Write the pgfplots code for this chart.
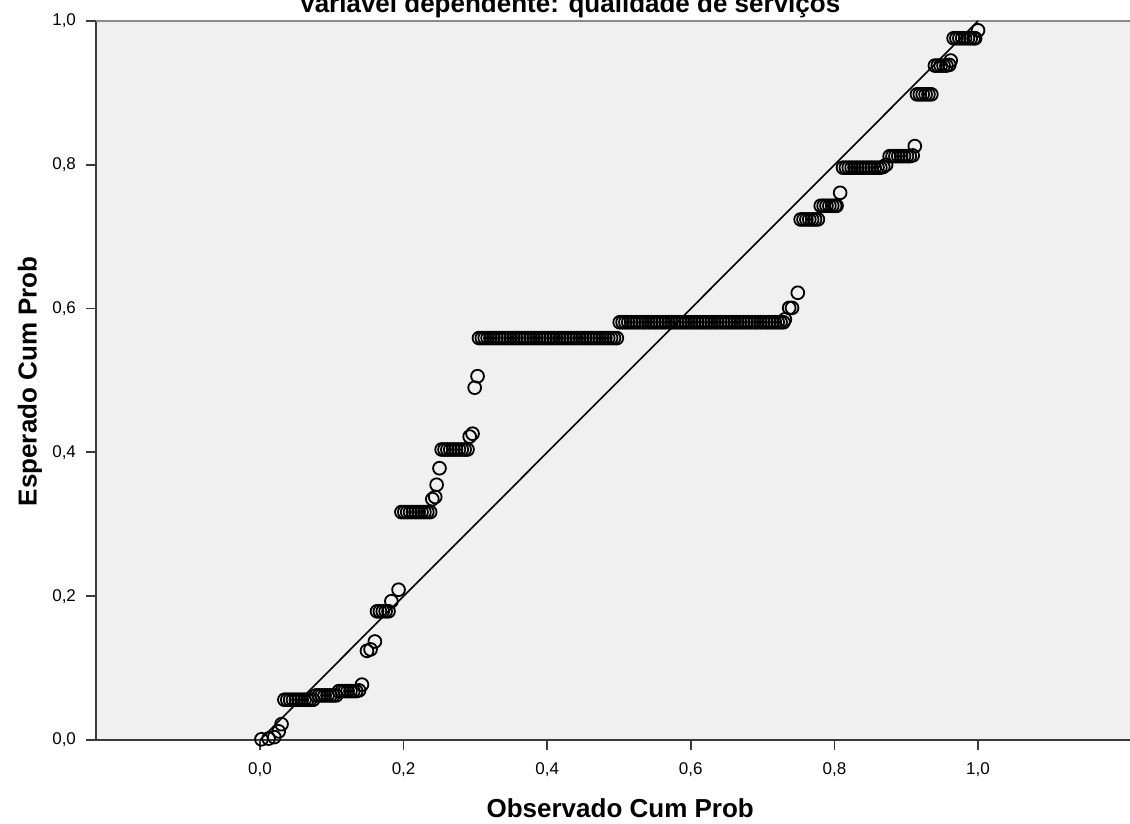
\documentclass[border=0pt]{standalone}
\usepackage{pgfplots}
\pgfplotsset{compat=1.18}
\usepackage{fontspec}
\setmainfont{Liberation Sans}
\definecolor{bgc}{HTML}{F0F0F0}
\definecolor{axc}{HTML}{3A3A3A}
\definecolor{topc}{HTML}{8A8A8A}
\begin{document}
\begin{tikzpicture}
\begin{axis}[
  scale only axis,
  width=517pt, height=359.5pt,
  xmin=-0.2284, xmax=1.2117,
  ymin=0, ymax=1,
  clip=false,
  axis x line*=bottom, axis y line*=left,
  axis line style={axc, line width=1.2pt},
  axis background/.style={fill=bgc},
  xtick={0,0.2,0.4,0.6,0.8,1.0},
  ytick={0,0.2,0.4,0.6,0.8,1.0},
  xticklabels={{0,0},{0,2},{0,4},{0,6},{0,8},{1,0}},
  yticklabels={{0,0},{0,2},{0,4},{0,6},{0,8},{1,0}},
  tick align=outside,
  major tick length=5pt,
  tick style={axc, line width=0.9pt},
  x axis line style={-}, y axis line style={-},
  ticklabel style={font=\fontsize{8.5pt}{10pt}\selectfont, text=black},
  xticklabel style={yshift=-3pt},
  yticklabel style={xshift=-1.5pt},
]
\coordinate (sw) at (rel axis cs:0,0);
\coordinate (ne) at (rel axis cs:1,1);
\draw[topc, line width=1.4pt] (rel axis cs:0,1) -- (rel axis cs:1,1);
\addplot[only marks, mark=o, mark size=3.2pt, mark options={line width=0.9pt, draw=black}] table {
x y
0.002 0.001
0.012 0.002
0.020 0.004
0.026 0.012
0.030 0.022
0.034 0.056
0.038 0.056
0.042 0.056
0.046 0.056
0.050 0.056
0.054 0.056
0.058 0.056
0.062 0.056
0.066 0.056
0.070 0.056
0.074 0.056
0.078 0.062
0.082 0.062
0.086 0.062
0.090 0.062
0.094 0.062
0.098 0.062
0.102 0.062
0.106 0.062
0.110 0.068
0.114 0.068
0.118 0.068
0.122 0.068
0.126 0.068
0.130 0.068
0.134 0.068
0.138 0.069
0.142 0.077
0.149 0.124
0.154 0.126
0.160 0.137
0.163 0.179
0.167 0.179
0.171 0.179
0.175 0.179
0.179 0.179
0.183 0.193
0.193 0.209
0.197 0.317
0.201 0.317
0.205 0.317
0.209 0.317
0.213 0.317
0.217 0.317
0.221 0.317
0.225 0.317
0.229 0.317
0.233 0.317
0.237 0.317
0.240 0.335
0.244 0.338
0.246 0.355
0.250 0.378
0.253 0.404
0.257 0.404
0.261 0.404
0.265 0.404
0.269 0.404
0.273 0.404
0.277 0.404
0.281 0.404
0.285 0.404
0.289 0.404
0.292 0.422
0.296 0.426
0.299 0.490
0.303 0.506
0.305 0.559
0.309 0.559
0.313 0.559
0.317 0.559
0.321 0.559
0.325 0.559
0.329 0.559
0.333 0.559
0.337 0.559
0.341 0.559
0.345 0.559
0.349 0.559
0.353 0.559
0.357 0.559
0.361 0.559
0.365 0.559
0.369 0.559
0.373 0.559
0.377 0.559
0.381 0.559
0.385 0.559
0.389 0.559
0.393 0.559
0.397 0.559
0.401 0.559
0.405 0.559
0.409 0.559
0.413 0.559
0.417 0.559
0.421 0.559
0.425 0.559
0.429 0.559
0.433 0.559
0.437 0.559
0.441 0.559
0.445 0.559
0.449 0.559
0.453 0.559
0.457 0.559
0.461 0.559
0.465 0.559
0.469 0.559
0.473 0.559
0.477 0.559
0.481 0.559
0.485 0.559
0.489 0.559
0.493 0.559
0.497 0.559
0.501 0.581
0.505 0.581
0.509 0.581
0.513 0.581
0.517 0.581
0.521 0.581
0.525 0.581
0.529 0.581
0.533 0.581
0.537 0.581
0.541 0.581
0.545 0.581
0.549 0.581
0.553 0.581
0.557 0.581
0.561 0.581
0.565 0.581
0.569 0.581
0.573 0.581
0.577 0.581
0.581 0.581
0.585 0.581
0.589 0.581
0.593 0.581
0.597 0.581
0.601 0.581
0.605 0.581
0.609 0.581
0.613 0.581
0.617 0.581
0.621 0.581
0.625 0.581
0.629 0.581
0.633 0.581
0.637 0.581
0.641 0.581
0.645 0.581
0.649 0.581
0.653 0.581
0.657 0.581
0.661 0.581
0.665 0.581
0.669 0.581
0.673 0.581
0.677 0.581
0.681 0.581
0.685 0.581
0.689 0.581
0.693 0.581
0.697 0.581
0.701 0.581
0.705 0.581
0.709 0.581
0.713 0.581
0.717 0.581
0.721 0.581
0.725 0.581
0.729 0.581
0.731 0.585
0.737 0.601
0.741 0.601
0.749 0.622
0.753 0.724
0.757 0.724
0.761 0.724
0.765 0.724
0.769 0.724
0.773 0.724
0.777 0.724
0.781 0.743
0.785 0.743
0.789 0.743
0.793 0.743
0.797 0.743
0.801 0.743
0.803 0.743
0.808 0.761
0.812 0.796
0.816 0.796
0.820 0.796
0.824 0.796
0.828 0.796
0.832 0.796
0.836 0.796
0.840 0.796
0.844 0.796
0.848 0.796
0.852 0.796
0.856 0.796
0.860 0.796
0.864 0.796
0.868 0.797
0.872 0.800
0.877 0.812
0.881 0.812
0.885 0.812
0.889 0.812
0.893 0.812
0.897 0.812
0.901 0.812
0.905 0.812
0.909 0.813
0.912 0.826
0.915 0.898
0.919 0.898
0.923 0.898
0.927 0.898
0.931 0.898
0.935 0.898
0.940 0.938
0.944 0.938
0.948 0.938
0.952 0.938
0.956 0.938
0.960 0.939
0.962 0.945
0.966 0.976
0.970 0.976
0.974 0.976
0.978 0.976
0.982 0.976
0.986 0.976
0.990 0.976
0.994 0.976
0.996 0.976
1.000 0.987
};
\addplot[black, line width=0.8pt] coordinates {(0,0) (1,1)};
\node[anchor=base, font=\fontsize{13pt}{15pt}\selectfont\bfseries] at ([yshift=4.25pt]rel axis cs:0.458,1) {Variável dependente: qualidade de serviços};
\node[anchor=center, rotate=90, font=\fontsize{13pt}{15pt}\selectfont\bfseries] at ([xshift=-33pt]rel axis cs:0,0.499) {Esperado Cum Prob};
\node[anchor=center, font=\fontsize{13pt}{15pt}\selectfont\bfseries] at ([yshift=-34pt]rel axis cs:0.507,0) {Observado Cum Prob};
\end{axis}
\pgfresetboundingbox
\path[use as bounding box] ([xshift=-48pt,yshift=-42pt]sw) rectangle ([yshift=10.5pt]ne);
\end{tikzpicture}
\end{document}
